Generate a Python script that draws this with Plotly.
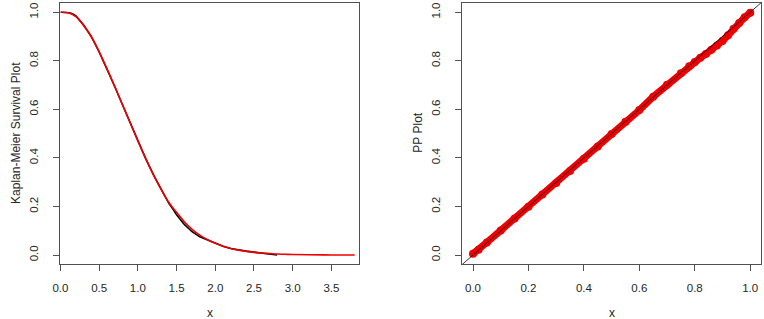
import plotly.graph_objects as go

W, H = 764, 319

# ---- Kaplan-Meier panel data ----
fit_x = [0.0, 0.1, 0.2, 0.3, 0.4, 0.5, 0.6, 0.7, 0.8, 0.9, 1.0, 1.1, 1.2, 1.3, 1.4,
         1.5, 1.6, 1.7, 1.8, 1.9, 2.0, 2.1, 2.2, 2.3, 2.4, 2.5, 2.6, 2.7, 2.8, 2.9,
         3.0, 3.2, 3.5, 3.8]
fit_y = [1.000, 0.998, 0.982, 0.945, 0.898, 0.837, 0.768, 0.695, 0.620, 0.545,
         0.470, 0.398, 0.331, 0.270, 0.216, 0.176, 0.137, 0.106, 0.082, 0.063,
         0.048, 0.036, 0.027, 0.020, 0.015, 0.011, 0.008, 0.006, 0.004, 0.003,
         0.002, 0.001, 0.0003, 0.0001]

km_x = [0.0, 0.08, 0.12, 0.16, 0.2, 0.3, 0.4, 0.5, 0.6, 0.7, 0.8, 0.9, 1.0, 1.1,
        1.2, 1.3, 1.4, 1.45, 1.5, 1.6, 1.7, 1.8, 1.9, 2.0, 2.1, 2.2, 2.3, 2.4,
        2.5, 2.6, 2.7, 2.8]
km_y = [1.000, 1.000, 0.998, 0.993, 0.985, 0.947, 0.899, 0.837, 0.768, 0.695,
        0.620, 0.545, 0.470, 0.398, 0.331, 0.270, 0.213, 0.190, 0.166, 0.126,
        0.096, 0.075, 0.061, 0.048, 0.036, 0.027, 0.020, 0.016, 0.012, 0.009,
        0.005, 0.000]

km_xticks = [0.0, 0.5, 1.0, 1.5, 2.0, 2.5, 3.0, 3.5]
prob_ticks = [0.0, 0.2, 0.4, 0.6, 0.8, 1.0]

# ---- PP panel data ----
pp_x = [0.00, 0.02, 0.05, 0.10, 0.15, 0.20, 0.25, 0.30, 0.35, 0.40, 0.45, 0.50,
        0.55, 0.60, 0.65, 0.70, 0.75, 0.78, 0.80, 0.82, 0.84, 0.86, 0.88, 0.90,
        0.92, 0.94, 0.96, 0.98, 1.00]
pp_y = [0.005, 0.022, 0.052, 0.101, 0.150, 0.199, 0.249, 0.297, 0.346, 0.397,
        0.447, 0.498, 0.549, 0.597, 0.652, 0.701, 0.749, 0.777, 0.795, 0.812,
        0.828, 0.845, 0.863, 0.882, 0.905, 0.932, 0.956, 0.979, 0.998]
abline_x = [-0.2, 1.2]
abline_y = [-0.2, 1.2]
pp_xticks = [0.0, 0.2, 0.4, 0.6, 0.8, 1.0]

FONT = "Liberation Sans, Arial, sans-serif"
LINE = "#505050"
TXT = "#262626"

fig = go.Figure()
fig.add_trace(go.Scatter(x=km_x, y=km_y, mode="lines", line=dict(color="black", width=1.6),
                         xaxis="x", yaxis="y", showlegend=False))
fig.add_trace(go.Scatter(x=fit_x, y=fit_y, mode="lines", line=dict(color="#ee0000", width=1.6, shape="spline"),
                         xaxis="x", yaxis="y", showlegend=False))
fig.add_trace(go.Scatter(x=pp_x, y=pp_y, mode="lines+markers",
                         line=dict(color="#ee0000", width=7),
                         marker=dict(color="#ee0000", size=8),
                         xaxis="x2", yaxis="y2", showlegend=False))
fig.add_trace(go.Scatter(x=abline_x, y=abline_y, mode="lines", line=dict(color="black", width=0.8),
                         xaxis="x2", yaxis="y2", showlegend=False))

def px_x(p):
    return p / W

def px_y(p):
    return 1 - p / H

ydom = [px_y(264), px_y(3)]
common = dict(showline=True, mirror=True, linecolor=LINE, linewidth=1, ticks="outside",
              ticklen=6, tickcolor=LINE, tickwidth=1, showgrid=False, zeroline=False,
              tickfont=dict(family=FONT, size=11.5, color=TXT), tickformat=".1f")

title_font = dict(family=FONT, size=12, color=TXT)

fig.update_layout(
    width=W, height=H, margin=dict(l=0, r=0, t=0, b=0),
    paper_bgcolor="white", plot_bgcolor="white",
    xaxis=dict(domain=[px_x(53), px_x(355)], range=[0, 3.86], tickvals=km_xticks,
               anchor="y", ticklabelstandoff=7, **common),
    yaxis=dict(domain=ydom, range=[-0.037, 1.038], tickvals=prob_ticks, anchor="x",
               tickangle=-90, ticklabelstandoff=11, **common),
    xaxis2=dict(domain=[px_x(459), px_x(761)], range=[-0.039, 1.039], tickvals=pp_xticks,
                anchor="y2", ticklabelstandoff=7, **common),
    yaxis2=dict(domain=ydom, range=[-0.037, 1.038], tickvals=prob_ticks, anchor="x2",
                tickangle=-90, ticklabelstandoff=11, **common),
    annotations=[
        dict(text="x", x=px_x(204), y=px_y(313), xref="paper", yref="paper",
             xanchor="center", yanchor="middle", showarrow=False, font=title_font),
        dict(text="x", x=px_x(610), y=px_y(313), xref="paper", yref="paper",
             xanchor="center", yanchor="middle", showarrow=False, font=title_font),
        dict(text="Kaplan-Meier Survival Plot", x=px_x(8), y=px_y(133), xref="paper", yref="paper",
             xanchor="center", yanchor="middle", showarrow=False, textangle=-90, font=title_font),
        dict(text="PP Plot", x=px_x(414), y=px_y(133), xref="paper", yref="paper",
             xanchor="center", yanchor="middle", showarrow=False, textangle=-90, font=title_font),
    ],
)

fig.write_html("out.html", config={"displayModeBar": False},
               post_script="document.body.style.margin='0px';document.body.style.overflow='hidden';")
